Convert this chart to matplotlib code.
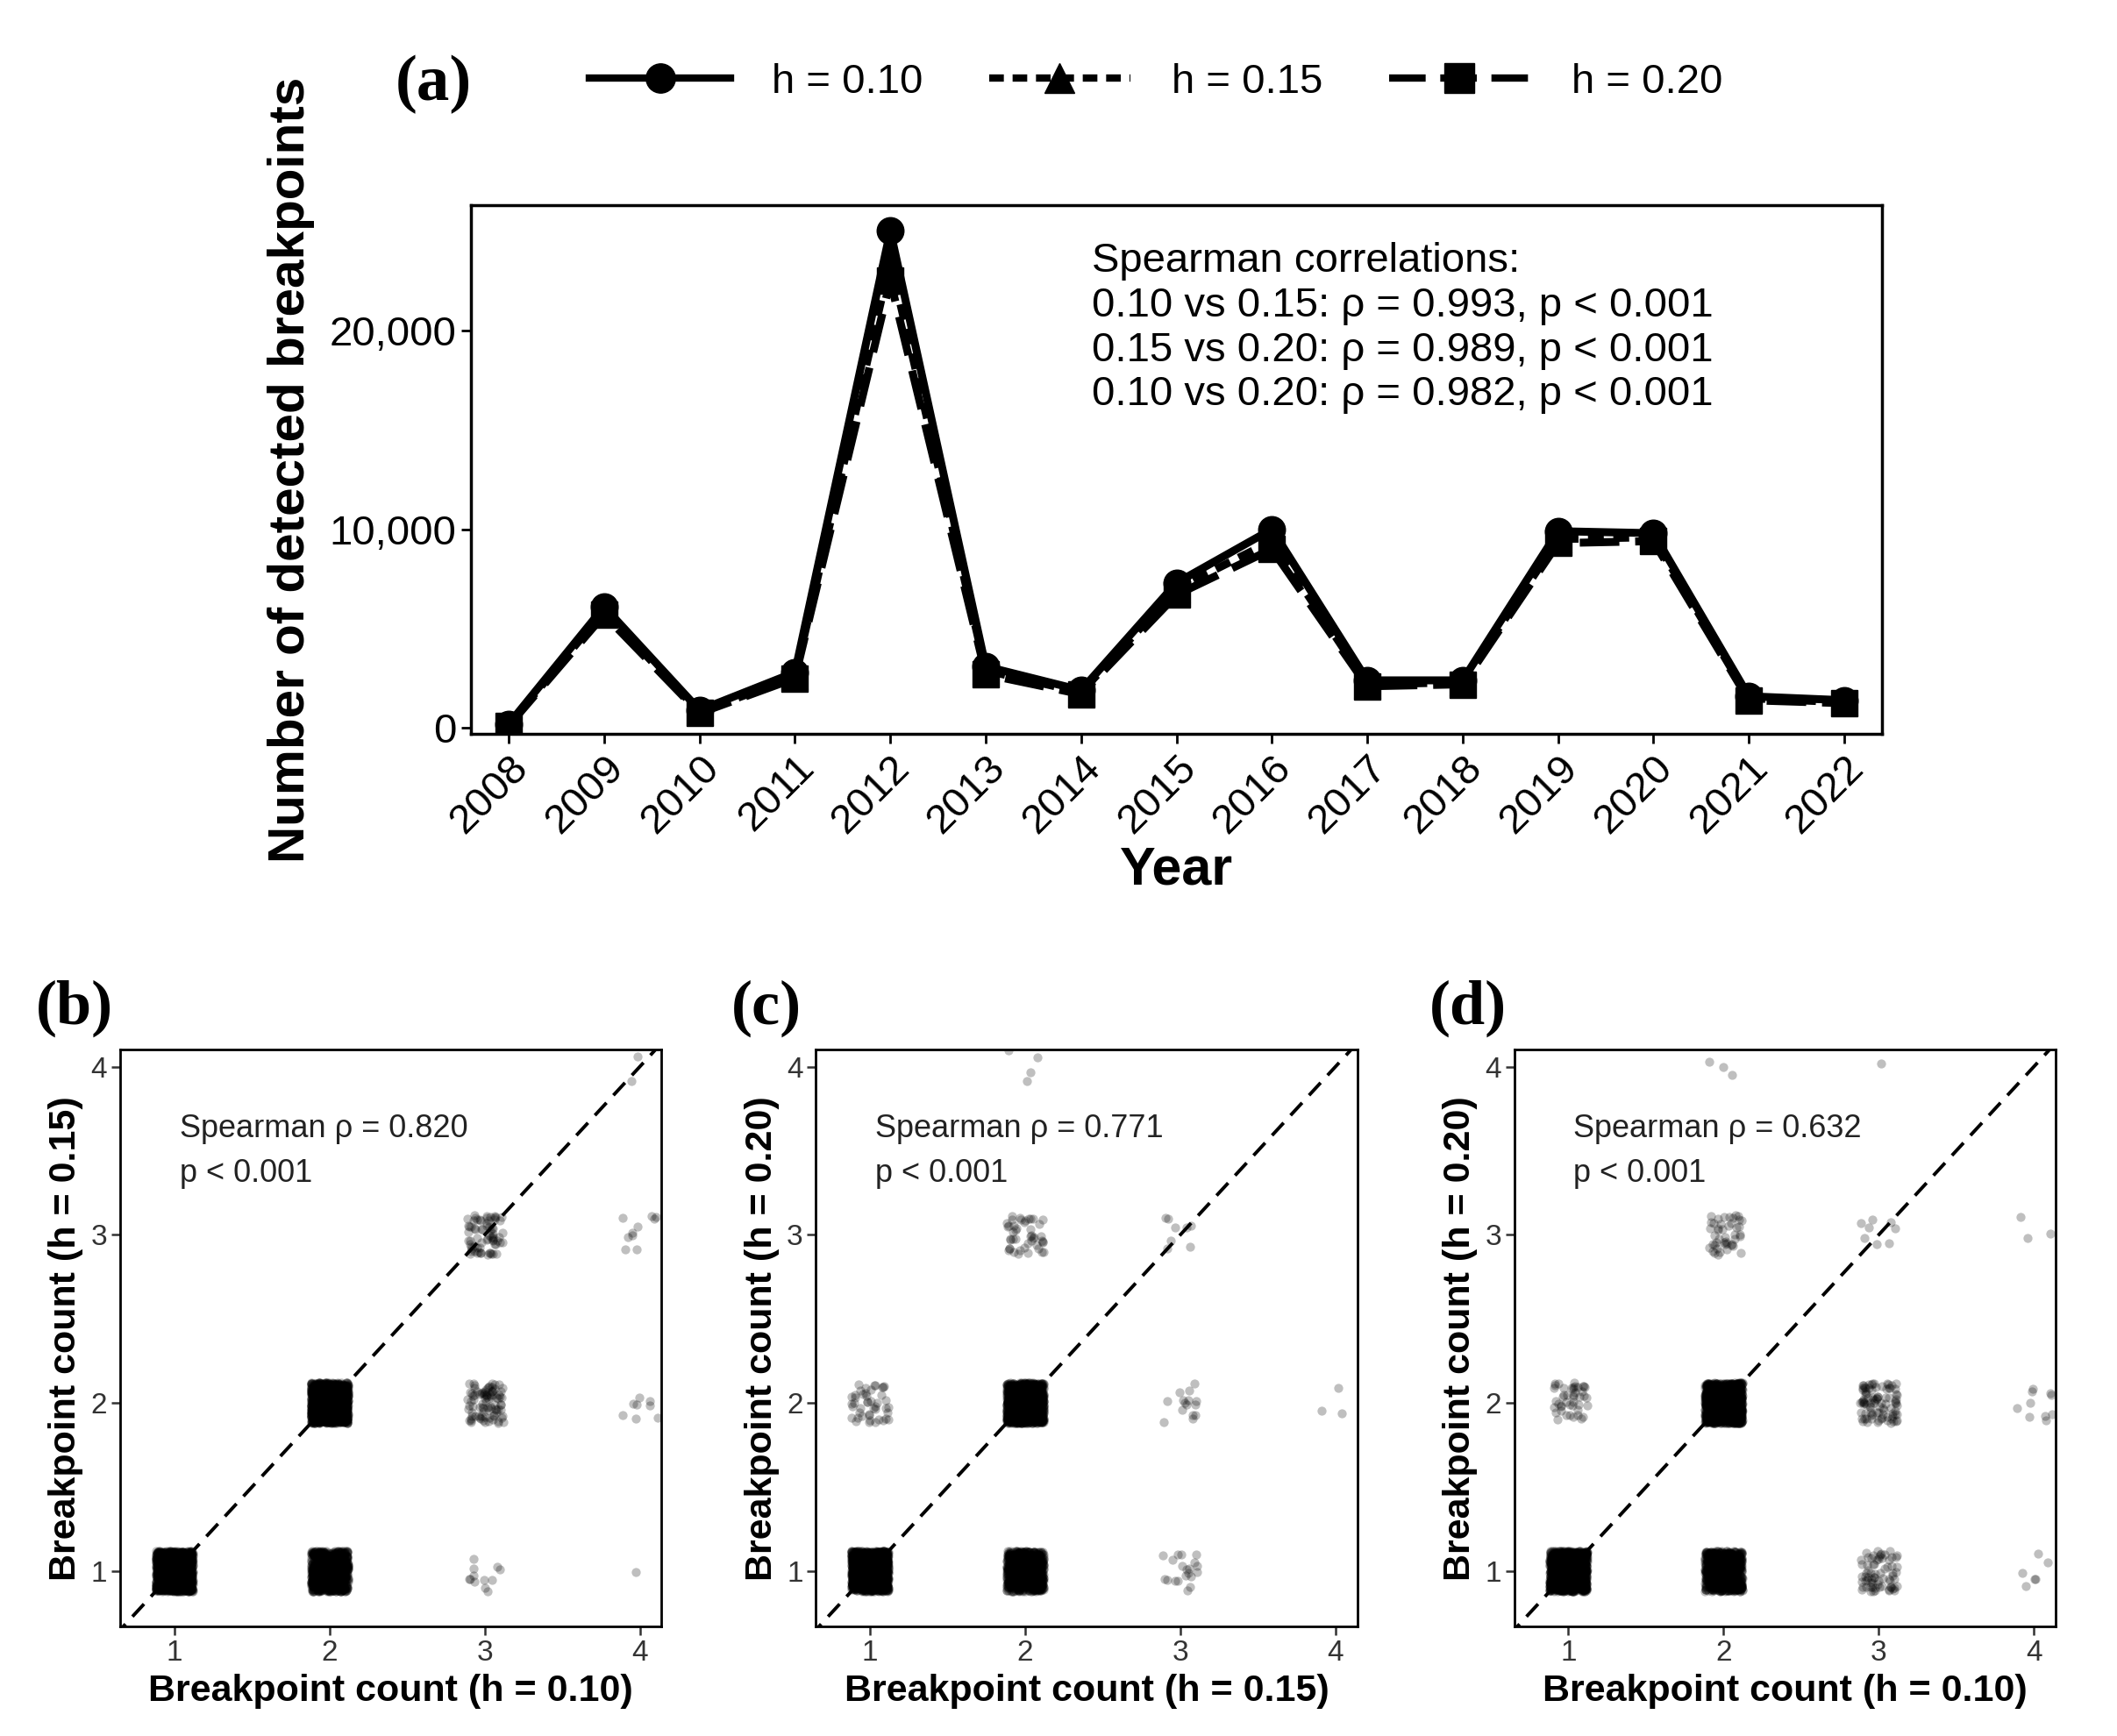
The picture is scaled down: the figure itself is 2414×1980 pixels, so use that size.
import numpy as np
import matplotlib
matplotlib.use("Agg")
import matplotlib.pyplot as plt
from matplotlib.lines import Line2D

plt.rcParams["font.family"] = ["Liberation Sans", "DejaVu Sans"]

years = list(range(2008, 2023))
h10 = [200, 6100, 900, 2800, 25000, 3100, 1900, 7300, 10000, 2400, 2400, 9900, 9800, 1600, 1400]
h15 = [150, 5900, 800, 2600, 23500, 2900, 1800, 7000, 9400, 2200, 2300, 9500, 9600, 1500, 1300]
h20 = [120, 5700, 750, 2500, 22500, 2700, 1700, 6700, 9000, 2100, 2200, 9300, 9400, 1400, 1250]

# (x, y, n) cluster counts for the scatter panels
pairs_b = [(1, 1, 1500), (2, 1, 900), (2, 2, 1500), (3, 1, 12), (3, 2, 90), (3, 3, 70),
           (4, 1, 1), (4, 2, 8), (4, 3, 10), (4, 4, 2)]
pairs_c = [(1, 1, 1500), (1, 2, 45), (2, 1, 900), (2, 2, 1500), (2, 3, 45), (2, 4, 4),
           (3, 1, 20), (3, 2, 15), (3, 3, 8), (4, 2, 3)]
pairs_d = [(1, 1, 1500), (1, 2, 45), (2, 1, 900), (2, 2, 1500), (2, 3, 45), (2, 4, 3),
           (3, 1, 70), (3, 2, 90), (3, 3, 8), (3, 4, 1), (4, 1, 6), (4, 2, 10), (4, 3, 3)]
panels = [
    ("(b)", pairs_b, "Breakpoint count (h = 0.10)", "Breakpoint count (h = 0.15)", "Spearman ρ = 0.820"),
    ("(c)", pairs_c, "Breakpoint count (h = 0.15)", "Breakpoint count (h = 0.20)", "Spearman ρ = 0.771"),
    ("(d)", pairs_d, "Breakpoint count (h = 0.10)", "Breakpoint count (h = 0.20)", "Spearman ρ = 0.632"),
]

W, H = 2414, 1980
fig = plt.figure(figsize=(W / 100, H / 100), dpi=100, facecolor="white")


def rect(x0, y0, x1, y1):
    return [x0 / 1552, 1 - y1 / 1270, (x1 - x0) / 1552, (y1 - y0) / 1270]


# ── panel (a) ────────────────────────────────────────────
ax = fig.add_axes(rect(345, 150, 1380, 537))
styles = [(h10, "-", "o", "h = 0.10"), (h15, (0, (2, 1.2)), "^", "h = 0.15"),
          (h20, (0, (5, 2)), "s", "h = 0.20")]
for vals, ls, mk, lab in styles:
    ax.plot(years, vals, color="black", linestyle=ls, linewidth=6.5, marker=mk,
            markersize=22, label=lab)
ax.set_xlim(2007.6, 2022.4)
ax.set_ylim(-300, 26300)
ax.set_yticks([0, 10000, 20000])
ax.set_yticklabels(["0", "10,000", "20,000"])
ax.set_xticks(years)
ax.set_xticklabels([str(y) for y in years], rotation=45, ha="right", rotation_mode="anchor")
ax.tick_params(labelsize=34, length=8, width=2, colors="black")
for s in ax.spines.values():
    s.set_linewidth(2.5)
ax.set_xlabel("Year", fontsize=44, fontweight="bold", labelpad=4)
ax.set_ylabel("Number of detected breakpoints", fontsize=42, fontweight="bold", labelpad=12)
ax.text(0.44, 0.93, "Spearman correlations:\n0.10 vs 0.15: ρ = 0.993, p < 0.001\n"
        "0.15 vs 0.20: ρ = 0.989, p < 0.001\n0.10 vs 0.20: ρ = 0.982, p < 0.001",
        transform=ax.transAxes, fontsize=34, va="top", ha="left", linespacing=1.2)
fig.text(290 / 1552, 1 - 62 / 1270, "(a)", fontsize=54, fontweight="bold",
         family="Liberation Serif", va="center")
handles = [Line2D([0], [0], color="black", linestyle=ls, linewidth=6, marker=mk,
                  markersize=24, label=lab) for _, ls, mk, lab in styles]
fig.legend(handles=handles, loc="center left", bbox_to_anchor=(405 / 1552, 1 - 60 / 1270),
           ncol=3, frameon=False, fontsize=34, handlelength=3.4, columnspacing=1.6,
           handletextpad=1.0)

# ── panels (b)-(d) ────────────────────────────────────────
rng = np.random.default_rng(3)
lefts = [88, 598, 1110]
for (tag, pairs, xl, yl, rho), x0 in zip(panels, lefts):
    axs = fig.add_axes(rect(x0, 768, x0 + 397, 1190))
    for x, y, n in pairs:
        xs = x + rng.uniform(-0.12, 0.12, n)
        ys = y + rng.uniform(-0.12, 0.12, n)
        axs.scatter(xs, ys, s=55, color="black", alpha=0.25, linewidths=0)
    axs.plot([0, 5], [0, 5], color="black", linestyle=(0, (5, 3)), linewidth=2.8)
    axs.set_xlim(0.65, 4.14)
    axs.set_ylim(0.67, 4.1)
    axs.set_xticks([1, 2, 3, 4])
    axs.set_yticks([1, 2, 3, 4])
    axs.tick_params(labelsize=24, length=7, width=1.8, colors="#333333")
    for s in axs.spines.values():
        s.set_linewidth(2)
    axs.set_xlabel(xl, fontsize=31, fontweight="bold", labelpad=6)
    axs.set_ylabel(yl, fontsize=31, fontweight="bold", labelpad=6)
    axs.text(0.11, 0.89, rho + "\np < 0.001", transform=axs.transAxes, fontsize=26,
             va="top", ha="left", linespacing=1.6, color="#222222")
    fig.text((x0 - 62) / 1552, 1 - 738 / 1270, tag, fontsize=52, fontweight="bold",
             family="Liberation Serif", va="center")

fig.savefig("out.png", dpi=100, facecolor="white")
